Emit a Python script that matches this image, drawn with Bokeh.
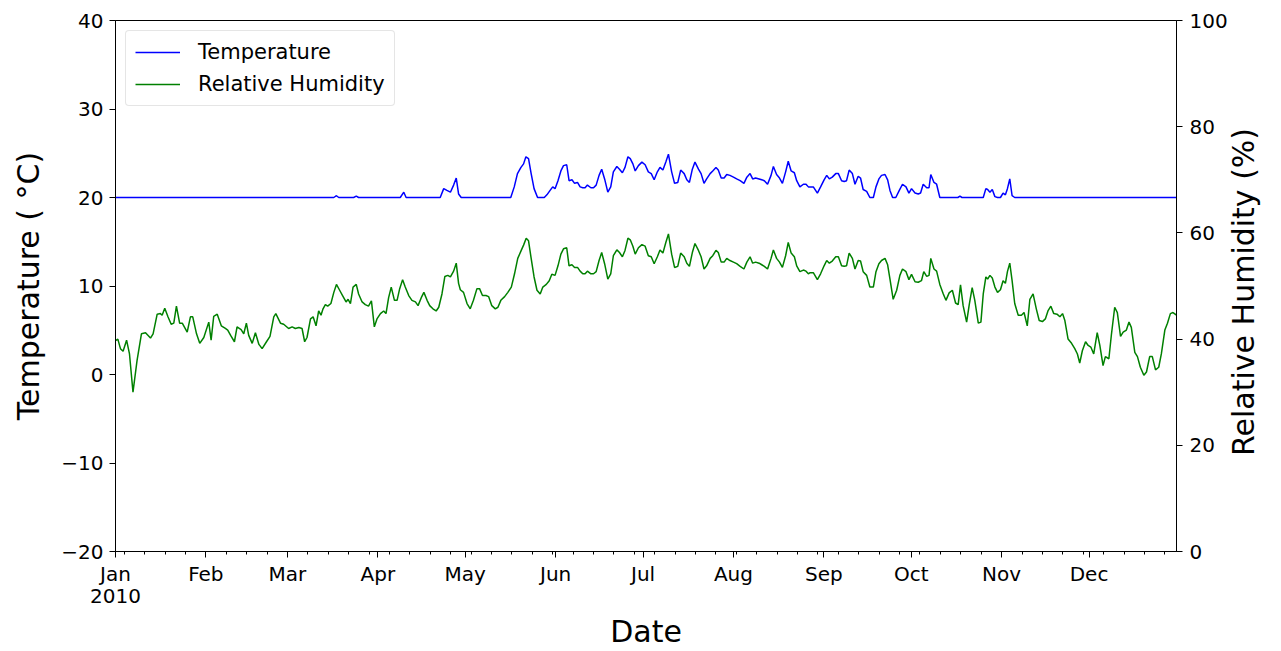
import math
import numpy as np
from bokeh.plotting import figure
from bokeh.models import Range1d, LinearAxis, FixedTicker, Legend, LegendItem
from bokeh.embed import file_html
from bokeh.resources import INLINE

# x axis: day of year 2010 (0 = 1 Jan)
month_starts = [0, 31, 59, 90, 120, 151, 181, 212, 243, 273, 304, 334]
month_labels = ["Jan", "Feb", "Mar", "Apr", "May", "Jun", "Jul", "Aug",
                "Sep", "Oct", "Nov", "Dec"]
year_label = "2010"
week_ticks = list(range(3, 365, 7))  # Mondays

temp_ticks = [-20, -10, 0, 10, 20, 30, 40]
rh_ticks = [0, 20, 40, 60, 80, 100]

# Temperature (deg C)
temp_days = [0, 74.9, 75.8, 76.6, 81.7, 82.6, 83.4, 97.7, 98.9, 99.7,
             111.4, 112.6, 113.7, 114.9, 116.0, 116.9, 117.7, 118.6,
             135.6, 136.8, 137.9, 139.1, 140.0, 140.8, 141.7, 142.6, 143.6, 144.8,
             147.1, 148.0, 149.1, 150.0, 150.8, 151.8, 152.8, 153.7, 154.8, 155.6,
             156.6, 157.5, 158.5, 159.4, 160.3, 161.1, 161.9, 163.1, 164.0, 164.9,
             165.9, 166.8, 167.8, 168.9, 169.9, 170.8, 172.0, 172.9, 173.9, 174.8,
             175.8, 176.6, 177.5, 178.3, 179.4, 180.6, 181.7, 182.8, 183.8, 184.8,
             185.9, 186.8, 187.8, 188.8, 189.7, 190.8, 191.8, 192.9, 193.9, 195.1,
             196.0, 196.9, 197.9, 198.8, 200.0, 200.9, 201.9, 202.8, 204.0, 204.9,
             206.0, 206.8, 207.8, 208.8, 209.7, 210.8, 212.0, 213.1, 214.3, 215.6,
             216.6, 217.7, 218.6, 219.6, 220.8, 221.7, 222.6, 223.7, 224.9, 225.7,
             226.8, 227.8, 228.8, 229.9, 230.8, 231.8, 232.9, 233.7, 234.8, 236.0,
             236.9, 237.7, 238.3, 239.4, 240.8, 241.9, 243.1, 244.0, 244.9, 245.9,
             247.1, 248.0, 249.1, 250.0, 250.8, 251.7, 252.8, 253.7, 254.8, 255.6,
             256.5, 257.7, 258.8, 260.0, 260.9, 261.9, 262.8, 264.0, 264.9, 265.7,
             266.6, 267.7, 268.9, 270.0, 271.2, 272.2, 273.1, 274.3, 275.4, 276.2,
             277.1, 278.3, 279.1, 279.7, 280.8, 281.7, 282.8, 289.0, 289.7, 290.4,
             297.7, 298.6, 299.2, 300.0, 300.8, 301.7, 302.6, 303.6, 304.5, 305.3,
             306.0, 306.8, 307.6, 308.5, 364]
temp_vals = [20.0, 20.0, 20.2, 20.0, 20.0, 20.15, 20.0, 20.0, 20.6, 20.0,
             20.0, 21.0, 20.8, 20.6, 21.4, 22.2, 20.4, 20.0,
             20.0, 21.2, 22.7, 23.4, 23.8, 24.6, 24.4, 22.7, 21.0, 20.0,
             20.0, 20.3, 20.8, 21.2, 21.0, 21.9, 23.0, 23.6, 23.7, 21.9,
             22.0, 21.6, 21.7, 21.2, 21.1, 21.1, 21.4, 21.1, 21.1, 21.4,
             22.5, 23.2, 22.1, 20.6, 21.2, 22.9, 23.5, 23.2, 22.8, 23.4,
             24.6, 24.4, 23.8, 23.0, 23.6, 24.0, 23.7, 22.9, 22.7, 22.0,
             22.9, 23.4, 23.1, 24.0, 24.9, 22.9, 21.6, 21.7, 23.1, 22.7,
             22.0, 21.7, 23.2, 24.0, 23.2, 22.7, 21.6, 22.1, 22.7, 23.0,
             23.4, 23.1, 22.2, 22.2, 22.6, 22.5, 22.3, 22.1, 21.9, 21.6,
             22.3, 22.7, 22.1, 22.2, 22.1, 22.0, 21.9, 21.5, 22.5, 23.5,
             22.6, 22.2, 21.6, 22.9, 24.1, 23.0, 22.8, 21.9, 21.2, 21.5,
             21.5, 21.2, 21.2, 21.2, 20.5, 21.2, 22.0, 22.5, 22.1, 22.3,
             22.7, 22.7, 21.9, 21.8, 21.9, 23.1, 22.7, 21.5, 22.4, 22.2,
             20.9, 20.7, 20.0, 20.0, 21.2, 22.1, 22.5, 22.6, 22.0, 20.8,
             20.0, 20.0, 20.8, 21.5, 21.2, 20.5, 21.0, 20.5, 20.4, 20.5,
             21.5, 21.1, 21.1, 22.6, 21.7, 21.5, 20.0, 20.0, 20.15, 20.0,
             20.0, 21.0, 20.9, 20.6, 20.9, 20.1, 20.0, 20.0, 20.5, 20.3,
             21.0, 22.1, 20.2, 20.0, 20.0]

# Relative humidity (%)
rh_days = [0.0, 0.8, 1.7, 2.6, 3.8, 4.8, 6.0, 7.4, 8.9, 10.3,
           12.0, 12.9, 14.3, 15.4, 16.0, 16.9, 18.0, 19.1, 20.0, 20.9,
           22.0, 22.9, 24.6, 25.7, 26.5, 27.8, 28.9, 30.3, 32.0, 32.8,
           33.7, 34.9, 36.3, 37.7, 38.5, 39.5, 40.8, 41.7, 43.1, 44.0,
           44.9, 45.7, 46.9, 48.0, 49.2, 50.3, 51.8, 53.0, 54.3, 55.0,
           56.6, 57.7, 59.4, 60.6, 61.7, 62.9, 64.0, 64.9, 65.7, 66.9,
           67.8, 68.8, 69.7, 70.5, 71.2, 72.0, 72.8, 73.9, 74.9, 75.8,
           76.9, 77.9, 79.1, 79.8, 80.6, 81.5, 82.6, 83.4, 84.6, 85.7,
           86.8, 87.8, 88.8, 89.7, 90.9, 92.0, 92.8, 93.7, 94.6, 95.7,
           96.6, 97.5, 98.5, 99.4, 100.6, 101.7, 102.9, 103.8, 104.9, 105.8,
           106.9, 107.8, 108.9, 110.0, 110.9, 112.0, 113.0, 114.0, 114.9, 116.0,
           116.9, 117.7, 118.3, 119.4, 120.6, 121.7, 122.8, 124.0, 124.9, 125.9,
           127.1, 128.0, 129.1, 130.3, 131.2, 132.2, 133.5, 134.6, 135.8, 136.9,
           138.0, 139.2, 140.0, 140.9, 141.7, 142.6, 143.6, 144.6, 145.7, 146.6,
           147.8, 148.8, 149.7, 150.8, 151.8, 152.8, 153.7, 154.8, 155.6, 156.6,
           157.5, 158.5, 159.4, 160.3, 161.1, 161.9, 163.1, 164.0, 164.9, 165.9,
           166.8, 167.8, 168.9, 169.9, 170.8, 172.0, 172.9, 173.9, 174.8, 175.8,
           176.6, 177.5, 178.3, 179.4, 180.6, 181.7, 182.8, 183.8, 184.8, 185.9,
           186.8, 187.8, 188.8, 189.7, 190.8, 191.8, 192.9, 193.9, 195.1, 196.0,
           196.9, 197.9, 198.8, 200.0, 200.9, 201.9, 202.8, 204.0, 204.9, 206.0,
           206.8, 207.8, 208.8, 209.7, 210.8, 212.0, 213.1, 214.3, 215.6, 216.6,
           217.7, 218.6, 219.6, 220.8, 221.7, 222.6, 223.7, 224.9, 225.7, 226.8,
           227.8, 228.8, 229.9, 230.8, 231.8, 232.9, 233.7, 234.8, 236.0, 236.9,
           237.7, 238.3, 239.4, 240.8, 241.9, 243.1, 244.0, 244.9, 245.9, 247.1,
           248.0, 249.1, 250.0, 250.8, 251.7, 252.8, 253.7, 254.8, 255.6, 256.5,
           257.7, 258.8, 260.0, 260.9, 261.9, 262.8, 264.0, 264.9, 265.7, 266.8,
           268.0, 269.1, 270.0, 271.2, 272.2, 273.1, 274.3, 275.4, 276.5, 277.3,
           278.3, 279.1, 279.7, 280.8, 281.7, 282.8, 284.0, 284.9, 286.0, 287.1,
           288.2, 289.1, 289.9, 290.8, 292.0, 292.9, 293.9, 294.8, 296.0, 296.9,
           297.7, 298.6, 299.2, 300.0, 300.8, 301.7, 302.6, 303.6, 304.5, 305.3,
           306.0, 306.8, 307.6, 308.5, 309.7, 310.8, 311.7, 312.8, 313.7, 314.8,
           315.9, 316.9, 318.0, 319.0, 319.9, 320.9, 321.9, 323.0, 324.0, 324.9,
           325.7, 326.8, 328.0, 329.1, 330.0, 330.8, 331.7, 332.8, 333.7, 334.6,
           335.6, 336.8, 337.7, 338.8, 339.6, 340.8, 341.7, 342.8, 343.7, 344.8,
           345.7, 346.8, 347.7, 348.5, 349.7, 350.6, 351.6, 352.8, 353.7, 354.8,
           355.7, 356.8, 357.9, 358.8, 360.0, 360.9, 361.9, 362.8, 364.0]
rh_vals = [39.7, 40.0, 38.2, 37.7, 39.8, 37.2, 30.0, 36.0, 41.0, 41.2,
           40.2, 41.0, 44.7, 44.8, 44.5, 45.8, 44.2, 42.8, 43.0, 46.2,
           43.0, 43.0, 41.3, 44.2, 44.2, 41.0, 39.2, 40.3, 43.2, 39.8,
           44.3, 44.7, 42.5, 42.0, 41.7, 40.7, 39.5, 42.3, 41.8, 41.0,
           43.0, 40.7, 39.2, 41.2, 39.0, 38.2, 39.5, 40.5, 44.2, 44.8,
           43.0, 42.8, 42.0, 42.3, 42.0, 42.2, 42.0, 39.5, 40.3, 43.8,
           44.2, 42.5, 45.3, 44.5, 45.7, 46.5, 46.2, 46.7, 48.8, 50.3,
           49.2, 48.2, 47.0, 47.5, 46.7, 49.8, 50.3, 48.5, 47.0, 46.5,
           46.2, 47.2, 42.3, 43.8, 44.8, 45.3, 44.8, 47.8, 49.8, 47.3,
           47.3, 49.5, 51.2, 49.8, 48.2, 47.3, 47.0, 46.3, 47.8, 48.8,
           47.3, 46.3, 45.7, 45.3, 46.0, 48.5, 51.8, 52.0, 51.7, 52.8,
           54.3, 50.5, 49.3, 48.8, 46.7, 45.7, 47.3, 49.5, 49.5, 48.2,
           48.2, 48.0, 46.3, 45.7, 46.0, 47.3, 48.0, 48.8, 49.8, 52.3,
           55.2, 56.7, 57.7, 59.0, 58.5, 55.2, 51.7, 49.2, 48.5, 49.8,
           50.3, 51.0, 52.2, 52.0, 53.8, 56.0, 57.0, 57.2, 53.8, 54.0,
           53.5, 53.5, 52.8, 52.3, 52.3, 52.8, 52.3, 52.3, 52.7, 54.8,
           56.3, 54.2, 51.3, 52.3, 55.7, 56.8, 56.3, 55.5, 56.7, 59.0,
           58.7, 57.5, 56.0, 57.2, 57.8, 57.5, 55.7, 55.5, 54.2, 55.5,
           56.8, 56.2, 58.2, 59.8, 56.0, 53.5, 53.7, 56.2, 55.5, 54.3,
           53.7, 56.3, 58.0, 56.7, 55.5, 53.2, 53.8, 55.2, 55.7, 56.7,
           56.3, 54.5, 54.5, 55.2, 54.8, 54.5, 54.2, 53.7, 53.2, 54.5,
           55.5, 54.3, 54.5, 54.3, 54.0, 53.7, 53.2, 55.2, 56.8, 55.2,
           54.5, 53.5, 55.7, 58.2, 56.2, 55.5, 53.8, 52.7, 53.0, 52.8,
           52.3, 52.5, 52.5, 51.2, 52.3, 53.8, 54.8, 54.3, 54.7, 55.5,
           55.5, 53.8, 53.7, 53.8, 56.2, 55.2, 53.2, 54.8, 54.7, 52.7,
           52.0, 49.8, 49.8, 52.7, 54.2, 54.8, 55.2, 54.0, 51.3, 47.5,
           49.2, 52.0, 53.2, 52.7, 51.2, 52.2, 50.8, 50.7, 51.0, 52.7,
           51.8, 52.0, 55.2, 53.2, 52.8, 50.3, 48.5, 47.3, 48.7, 49.2,
           46.8, 46.5, 50.2, 46.3, 43.2, 46.5, 49.7, 47.3, 43.0, 43.2,
           48.5, 51.7, 51.3, 52.0, 51.5, 49.8, 48.8, 49.3, 51.0, 50.5,
           52.7, 54.3, 51.0, 46.7, 44.5, 44.5, 45.0, 42.5, 47.5, 48.5,
           45.7, 43.5, 43.3, 43.8, 45.3, 46.2, 44.8, 44.7, 44.2, 44.8,
           43.5, 40.0, 39.2, 38.2, 37.2, 35.5, 37.8, 39.5, 38.8, 38.5,
           37.2, 41.2, 38.8, 35.0, 36.7, 36.3, 41.0, 46.0, 45.0, 40.5,
           41.3, 41.7, 43.2, 42.2, 37.5, 36.7, 34.7, 33.2, 33.8, 36.7,
           36.7, 34.2, 34.7, 37.2, 41.7, 43.0, 44.8, 45.0, 44.5]

FONT = "DejaVu Sans"

p = figure(width=1281, height=651, output_backend="svg", toolbar_location=None,
           x_range=Range1d(0, 364), y_range=Range1d(-20, 40),
           min_border_left=115, min_border_right=105,
           min_border_top=20, min_border_bottom=100)
p.extra_y_ranges = {"rh": Range1d(0, 100)}
p.grid.visible = False
p.outline_line_color = "black"
p.outline_line_width = 1
p.background_fill_color = "white"
p.border_fill_color = "white"

r_t = p.line(temp_days, temp_vals, line_color="#0000ff", line_width=1.5)
r_h = p.line(rh_days, rh_vals, line_color="#008000", line_width=1.5, y_range_name="rh")

def style_axis(ax):
    ax.axis_line_color = "black"
    ax.major_tick_line_color = "black"
    ax.minor_tick_line_color = "black"
    ax.major_tick_out = 6
    ax.major_tick_in = 0
    ax.minor_tick_out = 3
    ax.minor_tick_in = 0
    ax.major_label_text_font = FONT
    ax.major_label_text_font_size = "20px"
    ax.major_label_text_color = "black"
    ax.axis_label_text_font = FONT
    ax.axis_label_text_font_size = "30px"
    ax.axis_label_text_font_style = "normal"
    ax.axis_label_text_color = "black"
    ax.major_label_standoff = 6

def bare_axis(ax):
    ax.axis_line_color = None
    ax.major_tick_line_color = None
    ax.minor_tick_line_color = None
    ax.major_tick_out = 0
    ax.minor_tick_out = 0

# bottom axis (months)
xa = p.xaxis[0]
style_axis(xa)
xa.ticker = FixedTicker(ticks=month_starts, minor_ticks=week_ticks)
xa.major_label_overrides = {d: l for d, l in zip(month_starts, month_labels)}
xa.major_label_standoff = 4

# second bottom axis: year under the first month, carries the "Date" title
xa2 = LinearAxis()
style_axis(xa2)
bare_axis(xa2)
xa2.ticker = FixedTicker(ticks=[month_starts[0]], minor_ticks=[])
xa2.major_label_overrides = {month_starts[0]: year_label}
xa2.major_label_standoff = 0
xa2.axis_label = "Date"
xa2.axis_label_standoff = 8
p.add_layout(xa2, "below")

# left axis
ya = p.yaxis[0]
style_axis(ya)
ya.ticker = FixedTicker(ticks=temp_ticks, minor_ticks=[])
ya.major_label_overrides = {t: str(t).replace("-", "\u2212") for t in temp_ticks}
ya.axis_label = "Temperature ( \u00b0C)"
ya.axis_label_standoff = 12

# right axis
ra = LinearAxis(y_range_name="rh")
style_axis(ra)
ra.ticker = FixedTicker(ticks=rh_ticks, minor_ticks=[])
ra.major_label_standoff = 7
p.add_layout(ra, "right")

# right axis title (reads bottom-to-top like the reference), drawn as a
# single rotated tick label on a bare outer axis
title_anchor = 18.0  # where the title text starts on the % scale
ra2 = LinearAxis(y_range_name="rh")
style_axis(ra2)
bare_axis(ra2)
ra2.ticker = FixedTicker(ticks=[title_anchor], minor_ticks=[])
ra2.major_label_overrides = {title_anchor: "Relative Humidity (%)"}
ra2.major_label_orientation = math.pi / 2
ra2.major_label_text_font_size = "30px"
ra2.major_label_standoff = 13
p.add_layout(ra2, "right")

legend = Legend(items=[LegendItem(label="Temperature", renderers=[r_t]),
                       LegendItem(label="Relative Humidity", renderers=[r_h])],
                location="top_left")
legend.margin = 10
legend.padding = 9
legend.spacing = 8
legend.glyph_width = 45
legend.glyph_height = 24
legend.label_height = 24
legend.label_standoff = 18
legend.label_text_font = FONT
legend.label_text_font_size = "21px"
legend.label_text_color = "black"
legend.border_line_color = "#cccccc"
legend.border_line_width = 1
legend.background_fill_alpha = 0.8
if "border_radius" in legend.properties():
    legend.border_radius = 4
p.add_layout(legend)

open("out.html", "w").write(file_html(p, INLINE))
